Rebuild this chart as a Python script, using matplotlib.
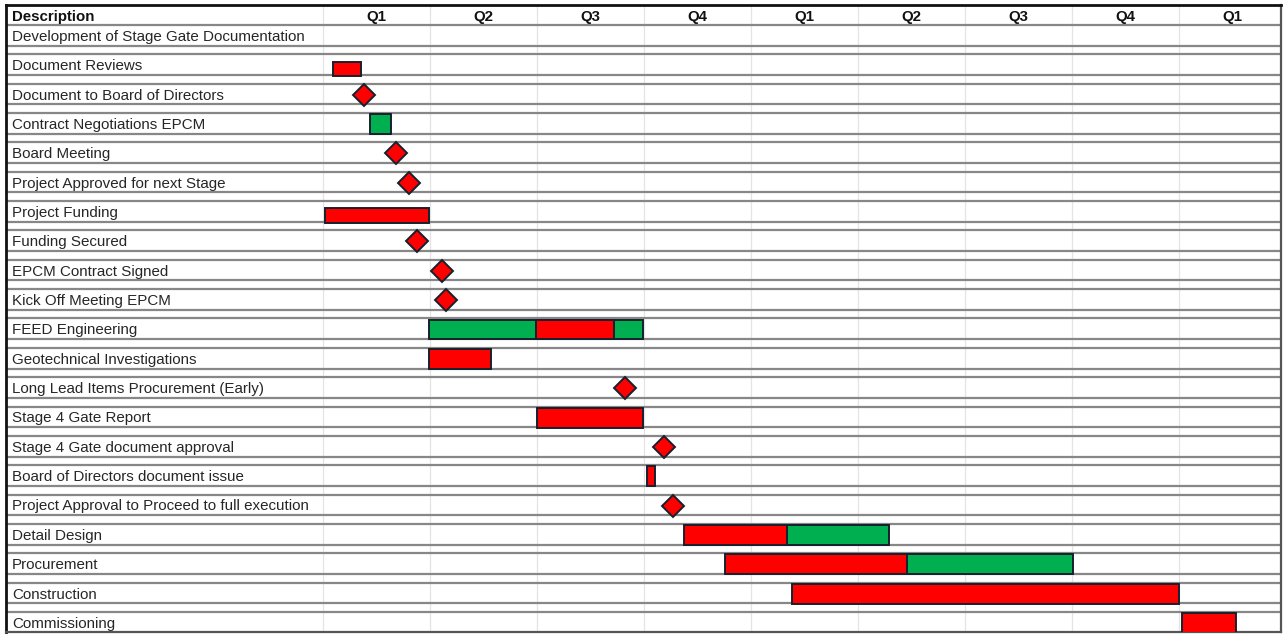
import matplotlib
matplotlib.use("Agg")
import matplotlib.pyplot as plt

# Schedule rows, top to bottom
tasks = [
    "Development of Stage Gate Documentation",
    "Document Reviews",
    "Document to Board of Directors",
    "Contract Negotiations EPCM",
    "Board Meeting",
    "Project Approved for next Stage",
    "Project Funding",
    "Funding Secured",
    "EPCM Contract Signed",
    "Kick Off Meeting EPCM",
    "FEED Engineering",
    "Geotechnical Investigations",
    "Long Lead Items Procurement (Early)",
    "Stage 4 Gate Report",
    "Stage 4 Gate document approval",
    "Board of Directors document issue",
    "Project Approval to Proceed to full execution",
    "Detail Design",
    "Procurement",
    "Construction",
    "Commissioning",
]

quarters = ["Q1", "Q2", "Q3", "Q4", "Q1", "Q2", "Q3", "Q4", "Q1"]

# Activity bars (time measured in quarters from the first Q1)
bar_tasks = [
    "Document Reviews",
    "Contract Negotiations EPCM",
    "Project Funding",
    "FEED Engineering",
    "FEED Engineering",
    "Geotechnical Investigations",
    "Stage 4 Gate Report",
    "Board of Directors document issue",
    "Detail Design",
    "Detail Design",
    "Procurement",
    "Procurement",
    "Construction",
    "Commissioning",
]
bar_start = [0.09, 0.44, 0.02, 0.99, 1.99, 0.99, 2.00, 3.03, 3.37, 4.34, 3.76, 5.46, 4.38, 8.03]
bar_end = [0.35, 0.63, 0.99, 2.99, 2.72, 1.57, 2.99, 3.10, 4.34, 5.29, 5.46, 7.01, 8.00, 8.54]
bar_status = ["red", "green", "red", "green", "red", "red", "red", "red",
              "red", "green", "red", "green", "red", "red"]

# Milestones (diamonds)
milestone_tasks = [
    "Document to Board of Directors",
    "Board Meeting",
    "Project Approved for next Stage",
    "Funding Secured",
    "EPCM Contract Signed",
    "Kick Off Meeting EPCM",
    "Long Lead Items Procurement (Early)",
    "Stage 4 Gate document approval",
    "Project Approval to Proceed to full execution",
]
milestone_time = [0.38, 0.68, 0.80, 0.88, 1.11, 1.15, 2.82, 3.19, 3.27]

# ---- styling ----
FILL = {"red": "#ff0000", "green": "#00b050"}
EDGE = "#17202c"
GRID_H = "#878787"
GRID_V = "#e4e4e4"
TEXT = "#262626"
FONT = ["Liberation Sans", "DejaVu Sans"]
thin_rows = {"Document Reviews": 0.5, "Project Funding": 0.52}

plt.rcParams["font.family"] = FONT

W, H = 1285, 634
fig = plt.figure(figsize=(W / 100, H / 100), dpi=100)
left_px, right_px, top_px, bot_px = 6, 1281, 5, 632
ax = fig.add_axes([left_px / W, 1 - bot_px / H,
                   (right_px - left_px) / W, (bot_px - top_px) / H])

q0_px, q_w = 323.3, 106.9
row0_px, row_h = 36.0, 29.35
ax.set_xlim((left_px - q0_px) / q_w, (right_px - q0_px) / q_w)
ax.set_ylim((bot_px - row0_px) / row_h, (top_px - row0_px) / row_h)
ax.set_xticks([])
ax.set_yticks([])

for side in ("left", "top"):
    ax.spines[side].set_color("#111111")
    ax.spines[side].set_linewidth(2.0)
for side in ("right", "bottom"):
    ax.spines[side].set_color("#555555")
    ax.spines[side].set_linewidth(1.6)

ymin, ymax = ax.get_ylim()
row_index = {t: i for i, t in enumerate(tasks)}

# quarter column separators (including the description column edge)
ax.vlines(range(len(quarters)), ymax, ymin, color=GRID_V, lw=0.9, zorder=0)

# double horizontal rules around every row
for i in range(len(tasks)):
    ax.axhline(i - 0.375, color=GRID_H, lw=1.6, zorder=1)
    ax.axhline(i + 0.33, color=GRID_H, lw=1.6, zorder=1)

label_x = 6 / (right_px - left_px)

# header
ax.text(label_x, -0.66, "Description", transform=ax.get_yaxis_transform(),
        ha="left", va="center", fontsize=10.8, fontweight="bold", color="#111111")
for k, q in enumerate(quarters):
    ax.text(k + 0.5, -0.66, q, ha="center", va="center", fontsize=10.8,
            fontweight="bold", color="#111111")

# task names
for i, t in enumerate(tasks):
    ax.text(label_x, i + 0.03, t, transform=ax.get_yaxis_transform(),
            ha="left", va="center", fontsize=10.9, color=TEXT)

# bars
for t, s, e, c in zip(bar_tasks, bar_start, bar_end, bar_status):
    r = row_index[t]
    h = thin_rows.get(t, 0.68)
    off = 0.12 if t in thin_rows else 0.0
    ax.barh(r + off, e - s, left=s, height=h, color=FILL[c], edgecolor=EDGE,
            linewidth=1.4, zorder=3)

# milestones
ax.plot(milestone_time, [row_index[t] for t in milestone_tasks], ls="none",
        marker="D", markersize=11.5, markerfacecolor=FILL["red"],
        markeredgecolor=EDGE, markeredgewidth=1.4, zorder=4)

fig.savefig("out.png", dpi=100)
